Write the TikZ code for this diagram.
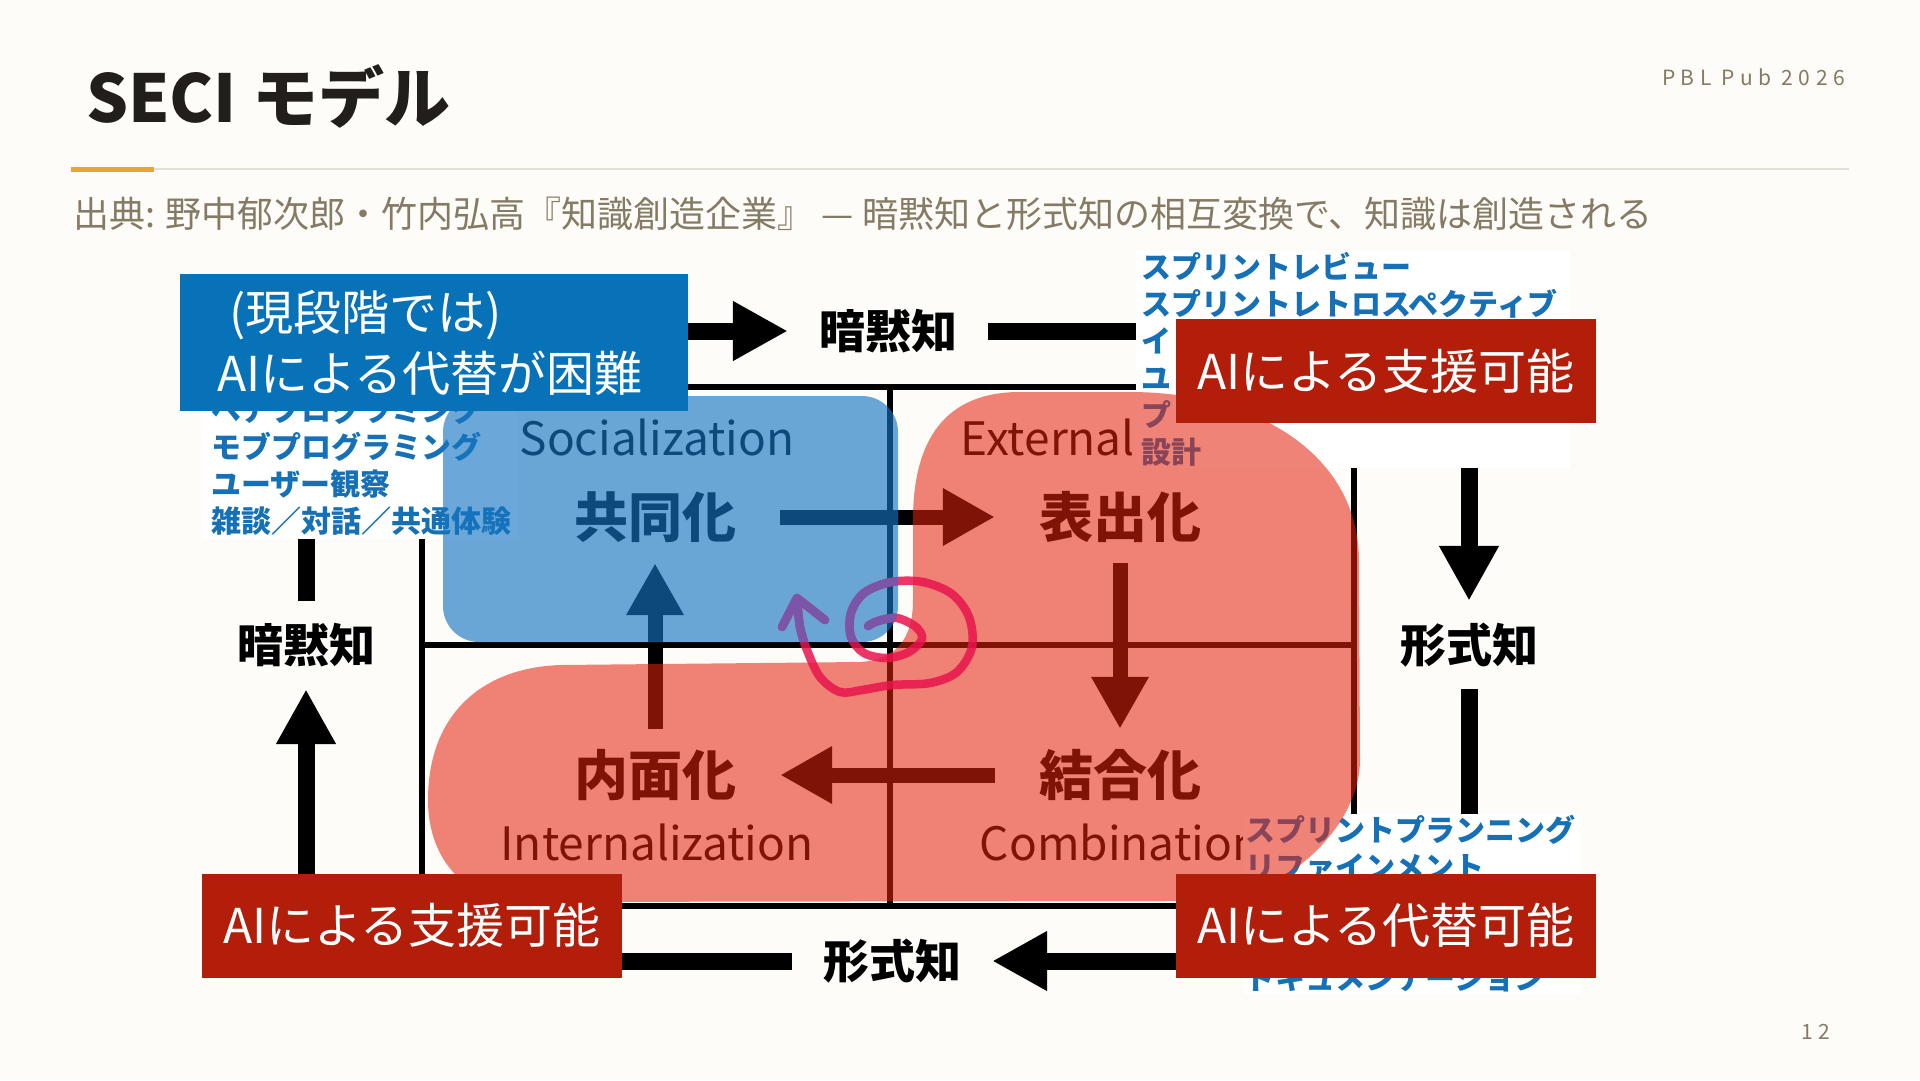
\documentclass[tikz,border=0pt]{standalone}
\usepackage{fontspec}
\setmainfont{Noto Sans CJK JP}
\newfontfamily\pblfont{Noto Sans CJK JP}[LetterSpace=26]
\usetikzlibrary{arrows.meta}
\definecolor{bgc}{HTML}{FDFCF8}
\definecolor{titlec}{HTML}{221E1B}
\definecolor{subc}{HTML}{857A64}
\definecolor{rulec}{HTML}{E2DFD8}
\definecolor{accent}{HTML}{E9A530}
\definecolor{aiblue}{HTML}{0872B9}
\definecolor{aired}{HTML}{B21E0A}
\definecolor{listblue}{HTML}{1570B5}
\definecolor{ovblue}{HTML}{1575C2}
\definecolor{ovred}{HTML}{E5230E}
\definecolor{inkpink}{HTML}{E8144E}
\definecolor{inkpurple}{HTML}{7B55A8}
\begin{document}
\begin{tikzpicture}[x=1pt,y=-1pt,
  frame/.style={line width=6pt},
  bigshaft/.style={line width=17pt},
  bigarrow/.style={line width=17pt,-{Triangle[length=55pt,width=56pt]}},
  stagearrow/.style={line width=15pt,-{Triangle[length=52pt,width=54pt]}},
  outerlbl/.style={inner sep=0pt,minimum width=200pt,minimum height=88pt,font=\fontsize{46}{52}\selectfont\bfseries,text=black},
  stagelbl/.style={inner sep=0pt,minimum width=250pt,minimum height=92pt,font=\fontsize{54}{60}\selectfont\bfseries,text=black},
  englbl/.style={inner sep=0pt,font=\fontsize{46}{52}\selectfont,text=black},
  listblk/.style={fill=white,text=listblue,align=left,inner ysep=0pt,font=\fontsize{30}{37}\selectfont\bfseries},
  aibox/.style={inner sep=0pt,text=white,minimum width=420pt,minimum height=104pt,font=\fontsize{48}{58}\selectfont},
]
\fill[bgc] (0,0) rectangle (1920,1080);
\useasboundingbox (0,0) rectangle (1920,1080);

% header
\node[anchor=base west,inner sep=0pt,font=\fontsize{66}{78}\selectfont\bfseries,text=titlec] (title) at (86,122) {SECI モデル};
\node[anchor=east,inner sep=0pt,font=\pblfont\fontsize{21}{24}\selectfont,text=subc] (pbl) at (1845,77) {PBL Pub 2026};
\draw[rulec,line width=2pt] (71,169) -- (1849,169);
\draw[accent,line width=5pt] (71,169) -- (154,169);
\node[anchor=west,inner sep=0pt,font=\fontsize{36}{40}\selectfont,text=subc] (sub) at (73,214) {出典: 野中郁次郎・竹内弘高『知識創造企業』 — 暗黙知と形式知の相互変換で、知識は創造される};
\node[inner sep=0pt,font=\pblfont\fontsize{21}{24}\selectfont,text=subc] (pg) at (1816,1032) {12};

% frame
\draw[frame] (422,387) rectangle (1354,906);
\draw[frame] (890,387) -- (890,906);
\draw[frame] (422,645) -- (1354,645);

% outer loop
\coordinate (cTL) at (306,331);
\coordinate (cTR) at (1469,331);
\coordinate (cBR) at (1469,961);
\coordinate (cBL) at (306,961);
\node[outerlbl] (lT) at (888,331) {暗黙知};
\node[outerlbl] (lR) at (1469,645) {形式知};
\node[outerlbl] (lB) at (892,961) {形式知};
\node[outerlbl] (lL) at (306,645) {暗黙知};
\draw[bigarrow] (cTL) -- (lT);
\draw[bigshaft] (lT) -- (cTR);
\draw[bigarrow] (cTR) -- (lR);
\draw[bigshaft] (lR) -- (cBR);
\draw[bigarrow] (cBR) -- (lB);
\draw[bigshaft] (lB) -- (cBL);
\draw[bigarrow] (cBL) -- (lL);
\draw[bigshaft] (lL) -- (cTL);

% stages
\node[stagelbl] (sS) at (655,517) {共同化};
\node[stagelbl] (sE) at (1120,517) {表出化};
\node[stagelbl] (sC) at (1120,775) {結合化};
\node[stagelbl] (sI) at (655,775) {内面化};
\draw[stagearrow] (sS) -- (sE);
\draw[stagearrow] (sE) -- (sC);
\draw[stagearrow] (sC) -- (sI);
\draw[stagearrow] (sI) -- (sS);
\node[englbl] (eS) at (657,437) {Socialization};
\node[englbl] (eE) at (1120,437) {Externalization};
\node[englbl] (eC) at (1120,842) {Combination};
\node[englbl] (eI) at (657,842) {Internalization};

% practice lists
\node[listblk,text width=298pt,inner xsep=9pt,minimum height=147pt] (pS) at (360,465.5) {ペアプログラミング\\モブプログラミング\\ユーザー観察\\雑談／対話／共通体験};
\node[listblk,text width=424pt,inner xsep=5pt,minimum height=217pt] (pE) at (1353,359.5) {スプリントレビュー\\スプリントレトロスペクティブ\\イ\\ユ\\プ\\設計};
\node[listblk,text width=333pt,inner xsep=2pt,minimum height=180pt] (pC) at (1411.5,904) {スプリントプランニング\\リファインメント\\\mbox{}\\\mbox{}\\ドキュメンテーション};

% overlays
\fill[ovblue,fill opacity=0.63,rounded corners=36pt] (443,396) rectangle (898,642);
\fill[ovred,fill opacity=0.56] (913,600) -- (913,520) .. controls (913,440) and (945,392) .. (1020,392) -- (1130,392) .. controls (1250,392) and (1358,450) .. (1359,560) -- (1360,760) .. controls (1360,820) and (1300,880) .. (1240,895) .. controls (1215,900) and (1190,901) .. (1160,901) -- (520,902) .. controls (466,900) and (428,860) .. (428,800) .. controls (428,716) and (480,668) .. (560,665) -- (860,662) .. controls (895,660) and (913,640) .. (913,600) -- cycle;

% ink scribble
\draw[inkpink,draw opacity=0.85,line width=8.5pt,line cap=round,line join=round] (782,627) -- (797,598) -- (825,620) plot[smooth,tension=0.55] coordinates {(797,598) (800,627) (807,650) (820,677) (840,692) (862,690) (892,685) (930,683) (957,672) (972,647) (969,617) (952,594) (923,582) (891,582) (864,593) (851,613) (851,637) (864,653) (887,658) (909,652) (922,639) (916,627) (897,618) (878,621) (868,626)};
\begin{scope}
\clip[rounded corners=36pt] (443,396) rectangle (898,642);
\draw[inkpurple,line width=8.5pt,line cap=round,line join=round] (782,627) -- (797,598) -- (825,620) plot[smooth,tension=0.55] coordinates {(797,598) (800,627) (807,650) (820,677) (840,692) (862,690) (892,685) (930,683) (957,672) (972,647) (969,617) (952,594) (923,582) (891,582) (864,593) (851,613) (851,637) (864,653) (887,658) (909,652) (922,639) (916,627) (897,618) (878,621) (868,626)};
\end{scope}

% AI boxes
\node[aibox,fill=aiblue,minimum width=508pt,minimum height=137pt,text width=434pt,align=left,font=\fontsize{48}{61}\selectfont] (ai1) at (434,342.5) {\hspace*{12pt}(現段階では)\\AIによる代替が困難};
\node[aibox,fill=aired] (ai2) at (1386,371) {AIによる支援可能};
\node[aibox,fill=aired] (ai3) at (412,925.5) {AIによる支援可能};
\node[aibox,fill=aired] (ai4) at (1386,925.5) {AIによる代替可能};
\end{tikzpicture}
\end{document}
